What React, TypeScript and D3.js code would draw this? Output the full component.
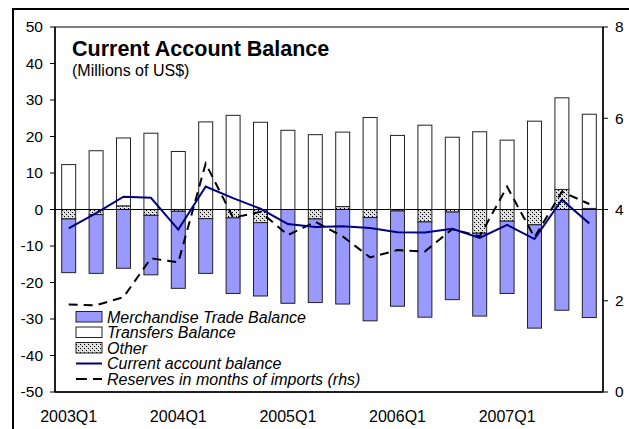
import React, { useEffect, useRef } from "react";
import * as d3 from "d3";

const quarters = [
  "2003Q1", "2003Q2", "2003Q3", "2003Q4",
  "2004Q1", "2004Q2", "2004Q3", "2004Q4",
  "2005Q1", "2005Q2", "2005Q3", "2005Q4",
  "2006Q1", "2006Q2", "2006Q3", "2006Q4",
  "2007Q1", "2007Q2", "2007Q3", "2007Q4",
];
const merchandise = [
  -14.7, -16.1, -16.1, -16.3, -21.1, -15.0, -20.7, -20.1, -25.7, -22.9,
  -25.9, -28.3, -26.1, -26.1, -24.0, -22.7, -19.8, -28.3, -27.6, -29.6,
];
const transfers = [
  12.3, 16.1, 18.6, 20.9, 15.9, 24.0, 25.8, 23.9, 21.7, 20.5,
  20.4, 25.2, 20.3, 23.1, 19.8, 21.3, 19.0, 24.2, 25.1, 25.8,
];
const other = [
  -2.6, -1.4, 1.0, -1.6, -0.5, -2.5, -2.3, -3.6, 0, -2.6,
  0.8, -2.2, -0.4, -3.4, -0.7, -6.5, -3.2, -4.2, 5.5, 0.3,
];
const currentAccount = [
  -5.2, -1.0, 3.5, 3.2, -5.5, 6.3, 3.1, 0.2, -4.0, -4.8,
  -4.6, -5.1, -6.2, -6.3, -5.3, -7.8, -4.2, -8.1, 2.7, -3.8,
];
const reserves = [
  1.92, 1.90, 2.08, 2.93, 2.84, 5.01, 3.82, 3.95, 3.44, 3.73,
  3.41, 2.95, 3.11, 3.08, 3.57, 3.41, 4.50, 3.39, 4.39, 4.12,
];
const leftTicks = [-50, -40, -30, -20, -10, 0, 10, 20, 30, 40, 50];
const rightTicks = [0, 2, 4, 6, 8];
const xLabels = ["2003Q1", "2004Q1", "2005Q1", "2006Q1", "2007Q1"];

const FONT = "'Liberation Sans', Arial, sans-serif";

function Chart() {
  const svgRef = useRef<SVGSVGElement>(null);
  const width = 629;
  const height = 429;

  useEffect(() => {
    if (!svgRef.current) return;
    const svg = d3.select(svgRef.current);
    svg.selectAll("*").remove();

    const left = 55, right = 603, top = 27, bottom = 392;

    const x = d3.scaleBand<string>().domain(quarters).range([left, right]).paddingInner(0.49).paddingOuter(0.245);
    const y = d3.scaleLinear().domain([-50, 50]).range([bottom, top]);
    const y2 = d3.scaleLinear().domain([0, 8]).range([bottom, top]);

    // dotted pattern for "Other"
    const defs = svg.append("defs");
    const pat = defs.append("pattern")
      .attr("id", "dots")
      .attr("width", 4)
      .attr("height", 4)
      .attr("patternUnits", "userSpaceOnUse");
    pat.append("rect").attr("width", 4).attr("height", 4).attr("fill", "#d8d8d8");
    pat.append("rect").attr("x", 0).attr("y", 0).attr("width", 1).attr("height", 1).attr("fill", "#000");
    pat.append("rect").attr("x", 2).attr("y", 2).attr("width", 1).attr("height", 1).attr("fill", "#000");
    pat.append("rect").attr("x", 1).attr("y", 3).attr("width", 1).attr("height", 1).attr("fill", "#fff");
    pat.append("rect").attr("x", 3).attr("y", 1).attr("width", 1).attr("height", 1).attr("fill", "#fff");

    // outer chart border
    svg.append("path")
      .attr("d", `M13,${height} L13,9 L${width},9`)
      .attr("fill", "none")
      .attr("stroke", "#000")
      .attr("stroke-width", 2);

    // plot frame
    svg.append("rect")
      .attr("x", left).attr("y", top)
      .attr("width", right - left).attr("height", bottom - top)
      .attr("fill", "none")
      .attr("stroke", "#000")
      .attr("stroke-width", 1);

    // stacked bars: other first (next to zero), then merchandise / transfers
    const g = svg.append("g");
    quarters.forEach((q, i) => {
      let pos = 0, neg = 0;
      const segs: { v0: number; v1: number; fill: string }[] = [];
      const add = (v: number, fill: string) => {
        if (v >= 0) { segs.push({ v0: pos, v1: pos + v, fill }); pos += v; }
        else { segs.push({ v0: neg, v1: neg + v, fill }); neg += v; }
      };
      add(other[i], "url(#dots)");
      add(merchandise[i], "#9999ff");
      add(transfers[i], "#ffffff");
      segs.forEach((s) => {
        if (Math.abs(s.v1 - s.v0) < 0.05) return;
        g.append("rect")
          .attr("x", x(q)!)
          .attr("width", x.bandwidth())
          .attr("y", y(Math.max(s.v0, s.v1)))
          .attr("height", Math.abs(y(s.v0) - y(s.v1)))
          .attr("fill", s.fill)
          .attr("stroke", "#222")
          .attr("stroke-width", 1);
      });
    });

    // zero line
    svg.append("line")
      .attr("x1", left).attr("x2", right)
      .attr("y1", y(0)).attr("y2", y(0))
      .attr("stroke", "#000").attr("stroke-width", 1);

    const cx = (q: string) => x(q)! + x.bandwidth() / 2;

    // reserves line (rhs)
    const lineR = d3.line<number>().x((_, i) => cx(quarters[i])).y((d) => y2(d));
    svg.append("path")
      .datum(reserves)
      .attr("d", lineR)
      .attr("fill", "none")
      .attr("stroke", "#000")
      .attr("stroke-width", 2)
      .attr("stroke-dasharray", "9,6");

    // current account line
    const lineCA = d3.line<number>().x((_, i) => cx(quarters[i])).y((d) => y(d));
    svg.append("path")
      .datum(currentAccount)
      .attr("d", lineCA)
      .attr("fill", "none")
      .attr("stroke", "#000080")
      .attr("stroke-width", 2);

    // left axis
    const axL = svg.append("g");
    leftTicks.forEach((t) => {
      axL.append("line")
        .attr("x1", left - 5).attr("x2", left)
        .attr("y1", y(t)).attr("y2", y(t))
        .attr("stroke", "#000");
      axL.append("text")
        .attr("x", left - 12).attr("y", y(t))
        .attr("dy", "0.35em")
        .attr("text-anchor", "end")
        .style("font-family", FONT)
        .style("font-size", "15.5px")
        .text(t);
    });
    axL.append("line")
      .attr("x1", left).attr("x2", left).attr("y1", top).attr("y2", bottom)
      .attr("stroke", "#000").attr("stroke-width", 1.5);

    // right axis
    const axR = svg.append("g");
    rightTicks.forEach((t) => {
      axR.append("line")
        .attr("x1", right).attr("x2", right + 5)
        .attr("y1", y2(t)).attr("y2", y2(t))
        .attr("stroke", "#000");
      axR.append("text")
        .attr("x", right + 12).attr("y", y2(t))
        .attr("dy", "0.35em")
        .attr("text-anchor", "start")
        .style("font-family", FONT)
        .style("font-size", "15.5px")
        .text(t);
    });
    axR.append("line")
      .attr("x1", right).attr("x2", right).attr("y1", top).attr("y2", bottom)
      .attr("stroke", "#000").attr("stroke-width", 1.5);

    // bottom axis
    svg.append("line")
      .attr("x1", left).attr("x2", right).attr("y1", bottom).attr("y2", bottom)
      .attr("stroke", "#000").attr("stroke-width", 1.5);
    xLabels.forEach((l) => {
      svg.append("text")
        .attr("x", cx(l)).attr("y", 422)
        .attr("text-anchor", "middle")
        .style("font-family", FONT)
        .style("font-size", "16px")
        .text(l);
    });

    // title
    svg.append("text")
      .attr("x", 72).attr("y", 56)
      .style("font-family", FONT)
      .style("font-size", "21.5px")
      .style("font-weight", "bold")
      .text("Current Account Balance");
    svg.append("text")
      .attr("x", 72).attr("y", 76)
      .style("font-family", FONT)
      .style("font-size", "16px")
      .text("(Millions of US$)");

    // legend
    const legend = svg.append("g").attr("transform", "translate(76, 317)");
    const items = [
      { name: "Merchandise Trade Balance", kind: "rect", fill: "#9999ff" },
      { name: "Transfers Balance", kind: "rect", fill: "#ffffff" },
      { name: "Other", kind: "rect", fill: "url(#dots)" },
      { name: "Current account balance", kind: "line", color: "#000080" },
      { name: "Reserves in months of imports (rhs)", kind: "dash", color: "#000" },
    ];
    items.forEach((it, i) => {
      const row = legend.append("g").attr("transform", `translate(0, ${i * 15.5})`);
      if (it.kind === "rect") {
        row.append("rect")
          .attr("x", 0).attr("y", -5.5)
          .attr("width", 26).attr("height", 10.5)
          .attr("fill", it.fill!)
          .attr("stroke", "#222");
      } else {
        row.append("line")
          .attr("x1", 0).attr("x2", 26).attr("y1", 0).attr("y2", 0)
          .attr("stroke", it.color!)
          .attr("stroke-width", 2)
          .attr("stroke-dasharray", it.kind === "dash" ? "11,6" : null);
      }
      row.append("text")
        .attr("x", 31).attr("y", 0)
        .attr("dy", "0.35em")
        .style("font-family", FONT)
        .style("font-size", "16px")
        .style("font-style", "italic")
        .text(it.name);
    });
  }, []);

  return (
    <svg
      ref={svgRef}
      width={width}
      height={height}
      style={{ position: "absolute", left: 0, top: 0, background: "#fff" }}
    ></svg>
  );
}

export default function App() {
  return <Chart />;
}
